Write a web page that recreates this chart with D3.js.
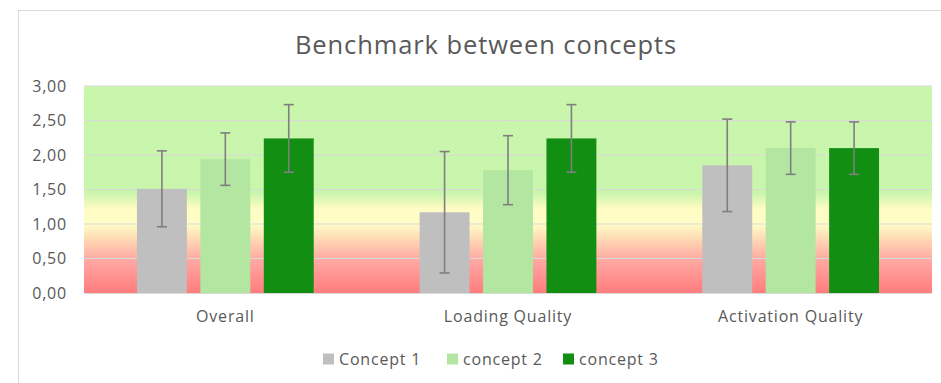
<!DOCTYPE html>
<html>
<head>
<meta charset="utf-8">
<script src="https://cdn.jsdelivr.net/npm/d3@7"></script>
<style>
  html, body { margin: 0; padding: 0; background: #ffffff; }
  svg { display: block; font-family: "Open Sans", "Noto Sans", sans-serif; }
</style>
</head>
<body>
<svg id="chart" width="941" height="383"></svg>
<script>
// Benchmark scores per concept, with the spread shown as error bars
const categories = ["Overall", "Loading Quality", "Activation Quality"];
const seriesNames = ["Concept 1", "concept 2", "concept 3"];
const concept1 = [1.51, 1.17, 1.85];
const concept2 = [1.94, 1.78, 2.10];
const concept3 = [2.24, 2.24, 2.10];
const concept1Err = [0.55, 0.88, 0.67];
const concept2Err = [0.38, 0.50, 0.38];
const concept3Err = [0.49, 0.49, 0.38];
const yTicks = [0, 0.5, 1, 1.5, 2, 2.5, 3];
const seriesColors = ["#bfbfbf", "#b3e6a1", "#128e12"];

const series = [
  { name: seriesNames[0], values: concept1, errs: concept1Err, color: seriesColors[0] },
  { name: seriesNames[1], values: concept2, errs: concept2Err, color: seriesColors[1] },
  { name: seriesNames[2], values: concept3, errs: concept3Err, color: seriesColors[2] }
];

const svg = d3.select("#chart");
const plot = { left: 84, right: 932, top: 86, bottom: 293 };
const labelFont = { size: 16, spacing: 0.8, color: "#595959" };

// Chart frame
svg.append("rect")
  .attr("x", 18.5).attr("y", 10.5)
  .attr("width", 960).attr("height", 400)
  .attr("fill", "#ffffff").attr("stroke", "#d9d9d9").attr("stroke-width", 1);

const x0 = d3.scaleBand().domain(categories).range([plot.left, plot.right]).paddingInner(0).paddingOuter(0);
const x1 = d3.scaleBand().domain(seriesNames).range([0, x0.bandwidth()]).paddingInner(0.213).paddingOuter(0.835);
const y = d3.scaleLinear().domain([0, 3]).range([plot.bottom, plot.top]);

// Red → yellow → green rating band behind the bars
const defs = svg.append("defs");
const grad = defs.append("linearGradient")
  .attr("id", "band")
  .attr("gradientUnits", "userSpaceOnUse")
  .attr("x1", 0).attr("x2", 0)
  .attr("y1", y(0)).attr("y2", y(3));
const stops = [
  [0.00, "#ff7d7d"],
  [0.45, "#ffa5a1"],
  [0.55, "#ffb3a6"],
  [0.80, "#ffdcb6"],
  [1.00, "#fffec8"],
  [1.22, "#fffcc4"],
  [1.45, "#c9f5ad"],
  [3.00, "#c8f6ab"]
];
grad.selectAll("stop").data(stops).join("stop")
  .attr("offset", d => d[0] / 3)
  .attr("stop-color", d => d[1]);

svg.append("rect")
  .attr("x", plot.left).attr("y", y(3))
  .attr("width", plot.right - plot.left).attr("height", y(0) - y(3))
  .attr("fill", "url(#band)");

// Gridlines
svg.append("g").selectAll("line").data(yTicks.filter(t => t > 0)).join("line")
  .attr("x1", plot.left).attr("x2", plot.right)
  .attr("y1", d => y(d)).attr("y2", d => y(d))
  .attr("stroke", "#d9d9d9").attr("stroke-width", 1.2);

// Y axis labels
const fmt = d => d3.format(".2f")(d).replace(".", ",");
const yAxis = d3.axisLeft(y).tickValues(yTicks).tickFormat(fmt).tickSize(0).tickPadding(0);
const gy = svg.append("g").attr("transform", `translate(67,0)`).call(yAxis);
gy.select(".domain").remove();
gy.selectAll("text")
  .attr("fill", labelFont.color).attr("font-size", labelFont.size)
  .attr("letter-spacing", labelFont.spacing)
  .attr("font-family", "'Open Sans', sans-serif");

// Bars
const groups = svg.append("g").selectAll("g").data(series).join("g");
groups.selectAll("rect").data(s => s.values.map((v, i) => ({ s, v, c: categories[i] }))).join("rect")
  .attr("x", d => x0(d.c) + x1(d.s.name))
  .attr("y", d => y(d.v))
  .attr("width", x1.bandwidth())
  .attr("height", d => y(0) - y(d.v))
  .attr("fill", d => d.s.color);

// Error bars
const errs = [];
series.forEach(s => s.values.forEach((v, i) => {
  errs.push({ cx: x0(categories[i]) + x1(s.name) + x1.bandwidth() / 2, hi: v + s.errs[i], lo: v - s.errs[i] });
}));
const eg = svg.append("g").attr("stroke", "#7f7f7f").attr("stroke-width", 1.6);
eg.selectAll("line.v").data(errs).join("line").attr("class", "v")
  .attr("x1", d => d.cx).attr("x2", d => d.cx)
  .attr("y1", d => y(d.hi)).attr("y2", d => y(d.lo));
eg.selectAll("line.t").data(errs).join("line").attr("class", "t")
  .attr("x1", d => d.cx - 5).attr("x2", d => d.cx + 5)
  .attr("y1", d => y(d.hi)).attr("y2", d => y(d.hi));
eg.selectAll("line.b").data(errs).join("line").attr("class", "b")
  .attr("x1", d => d.cx - 5).attr("x2", d => d.cx + 5)
  .attr("y1", d => y(d.lo)).attr("y2", d => y(d.lo));

// Baseline
svg.append("line")
  .attr("x1", plot.left).attr("x2", plot.right)
  .attr("y1", y(0) + 0.5).attr("y2", y(0) + 0.5)
  .attr("stroke", "#d9d9d9").attr("stroke-width", 1);

// Category labels
const xAxis = d3.axisBottom(x0).tickSize(0).tickPadding(0);
const gx = svg.append("g").attr("transform", `translate(0,${y(0) + 24})`).call(xAxis);
gx.select(".domain").remove();
gx.selectAll("text")
  .attr("fill", labelFont.color).attr("font-size", labelFont.size)
  .attr("letter-spacing", labelFont.spacing)
  .attr("font-family", "'Open Sans', sans-serif")
  .attr("dy", "0.32em");

// Title
svg.append("text")
  .attr("x", 486).attr("y", 54)
  .attr("text-anchor", "middle")
  .attr("fill", "#595959").attr("font-size", 25.5)
  .attr("letter-spacing", 0.9)
  .text("Benchmark between concepts");

// Legend
const legendX = [323, 447, 563];
const lg = svg.append("g").selectAll("g").data(series).join("g")
  .attr("transform", (d, i) => `translate(${legendX[i]},359)`);
lg.append("rect").attr("x", 0).attr("y", -5.5).attr("width", 11).attr("height", 11).attr("fill", d => d.color);
lg.append("text").attr("x", 16).attr("dy", "0.35em")
  .attr("fill", labelFont.color).attr("font-size", labelFont.size)
  .attr("letter-spacing", labelFont.spacing)
  .text(d => d.name);
</script>
</body>
</html>
